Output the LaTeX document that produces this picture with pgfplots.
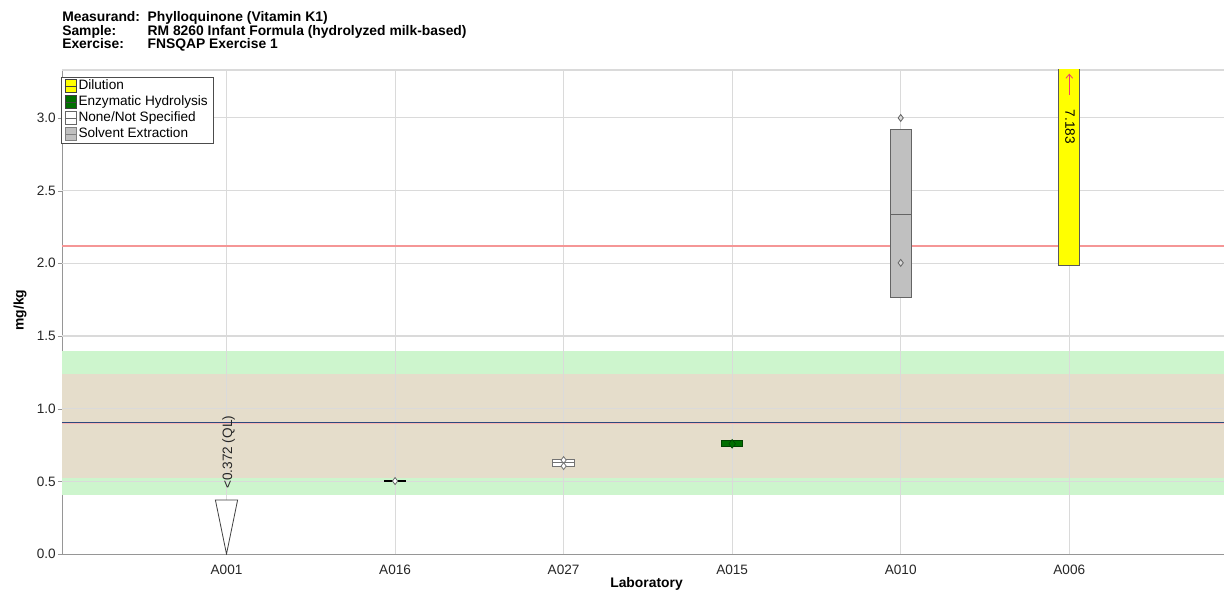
\documentclass[border=0pt]{standalone}
\usepackage{fontspec}
\setmainfont{Liberation Sans}
\usepackage{pgfplots}
\pgfplotsset{compat=1.18}
\usetikzlibrary{arrows.meta}
\definecolor{bandgreen}{RGB}{205,245,205}
\definecolor{bandtan}{RGB}{229,221,203}
\definecolor{refblue}{RGB}{44,74,125}
\definecolor{refred}{RGB}{245,150,150}
\definecolor{gridc}{RGB}{218,218,218}
\definecolor{axc}{RGB}{150,150,150}
\definecolor{dilyellow}{RGB}{255,255,0}
\definecolor{enzgreen}{RGB}{0,110,0}
\definecolor{solvgray}{RGB}{192,192,192}
\definecolor{boxedge}{RGB}{100,100,100}
\definecolor{arrowpink}{RGB}{240,60,110}
\begin{document}
\begin{tikzpicture}[font=\fontsize{10}{12}\selectfont]
\useasboundingbox (-46.5pt,-27pt) rectangle (871.5pt,415.5pt);
% header
\node[anchor=base west, inner sep=0pt, font=\fontsize{10.4}{12}\selectfont\bfseries] at (0pt,399pt) {Measurand:};
\node[anchor=base west, inner sep=0pt, font=\fontsize{10.4}{12}\selectfont\bfseries] at (64pt,399pt) {Phylloquinone (Vitamin K1)};
\node[anchor=base west, inner sep=0pt, font=\fontsize{10.4}{12}\selectfont\bfseries] at (0pt,388.9pt) {Sample:};
\node[anchor=base west, inner sep=0pt, font=\fontsize{10.4}{12}\selectfont\bfseries] at (64pt,388.9pt) {RM 8260 Infant Formula (hydrolyzed milk-based)};
\node[anchor=base west, inner sep=0pt, font=\fontsize{10.4}{12}\selectfont\bfseries] at (0pt,378.8pt) {Exercise:};
\node[anchor=base west, inner sep=0pt, font=\fontsize{10.4}{12}\selectfont\bfseries] at (64pt,378.8pt) {FNSQAP Exercise 1};
\begin{axis}[
  at={(0pt,0pt)}, anchor=south west,
  scale only axis, width=871.5pt, height=363pt,
  xmin=-0.976, xmax=5.918, ymin=0, ymax=3.33,
  axis x line*=bottom, axis y line*=left,
  axis line style={draw=axc, -},
  xtick={0,1,2,3,4,5},
  xticklabels={A001,A016,A027,A015,A010,A006},
  ytick={0,0.5,1,1.5,2,2.5,3},
  /pgf/number format/assume math mode=true,
  yticklabel style={/pgf/number format/fixed, /pgf/number format/fixed zerofill, /pgf/number format/precision=1},
  tick align=outside,
  major tick length=3pt,
  x tick style={draw=none},
  y tick style={draw=axc},
  tick label style={font=\fontsize{10.2}{12}\selectfont, text=black!85},
  xticklabel style={yshift=-1.5pt},
  yticklabel style={xshift=-0.5pt, inner xsep=1pt},
  xlabel={Laboratory},
  ylabel={mg/kg},
  xlabel style={at={(axis description cs:0.503,0)}, anchor=base, yshift=-25pt, font=\fontsize{10.4}{12}\selectfont\bfseries},
  ylabel style={at={(axis description cs:-0.036,0.504)}, anchor=center, font=\fontsize{10.4}{12}\selectfont\bfseries},
  clip=true,
  legend style={at={(axis description cs:0,1)}, anchor=north west, xshift=-0.75pt, yshift=-5pt,
    draw=black!70, fill=white, inner xsep=2.5pt, inner ysep=1pt, row sep=0pt,
    font=\fontsize{10.2}{12}\selectfont,
    nodes={text height=7.5pt, text depth=2pt, inner ysep=1.25pt, inner xsep=1.8pt}},
  legend cell align=left,
  legend image code/.code={
    \draw[#1] (0pt,-4.75pt) rectangle (8.25pt,5pt);
    \draw[#1, fill=none] (0pt,0pt) -- (8.25pt,0pt);
  },
]
% legend entries
\addlegendimage{fill=dilyellow, draw=black!75}
\addlegendentry{Dilution}
\addlegendimage{fill=enzgreen, draw=black!75}
\addlegendentry{Enzymatic Hydrolysis}
\addlegendimage{fill=white, draw=black!60}
\addlegendentry{None/Not Specified}
\addlegendimage{fill=solvgray, draw=black!50}
\addlegendentry{Solvent Extraction}

% bands
\addplot[forget plot, fill=bandgreen, draw=none] coordinates {(-0.976,0.408) (5.918,0.408) (5.918,1.398) (-0.976,1.398)} -- cycle;
\addplot[forget plot, fill=bandtan, draw=none] coordinates {(-0.976,0.525) (5.918,0.525) (5.918,1.236) (-0.976,1.236)} -- cycle;
% grid lines (over bands, under data)
\addplot[forget plot, gridc, line width=0.8pt] coordinates {(-0.976,0.5) (5.918,0.5)};
\addplot[forget plot, gridc, line width=0.8pt] coordinates {(-0.976,1.0) (5.918,1.0)};
\addplot[forget plot, gridc, line width=0.8pt] coordinates {(-0.976,1.5) (5.918,1.5)};
\addplot[forget plot, gridc, line width=0.8pt] coordinates {(-0.976,2.0) (5.918,2.0)};
\addplot[forget plot, gridc, line width=0.8pt] coordinates {(-0.976,2.5) (5.918,2.5)};
\addplot[forget plot, gridc, line width=0.8pt] coordinates {(-0.976,3.0) (5.918,3.0)};
\addplot[forget plot, gridc, line width=0.8pt] coordinates {(-0.976,3.33) (5.918,3.33)};
\addplot[forget plot, gridc, line width=0.8pt] coordinates {(0,0) (0,3.33)};
\addplot[forget plot, gridc, line width=0.8pt] coordinates {(1,0) (1,3.33)};
\addplot[forget plot, gridc, line width=0.8pt] coordinates {(2,0) (2,3.33)};
\addplot[forget plot, gridc, line width=0.8pt] coordinates {(3,0) (3,3.33)};
\addplot[forget plot, gridc, line width=0.8pt] coordinates {(4,0) (4,3.33)};
\addplot[forget plot, gridc, line width=0.8pt] coordinates {(5,0) (5,3.33)};
% reference lines
\addplot[forget plot, refred, line width=1.1pt] coordinates {(-0.976,2.12) (5.918,2.12)};
\addplot[forget plot, refred!70, line width=1.2pt] coordinates {(-0.976,0.902) (5.918,0.902)};
\addplot[forget plot, refblue, line width=1.1pt] coordinates {(-0.976,0.906) (5.918,0.906)};

% A001 : < QL triangle
\addplot[forget plot, fill=white, draw=black!75, line width=0.6pt] coordinates {(-0.066,0.372) (0.066,0.372) (0,0)} -- cycle;
\node[rotate=90, text=black!85, font=\fontsize{10.2}{12}\selectfont] at (axis cs:0.012,0.70) {<0.372 (QL)};

% A016
\addplot[forget plot, black, line width=1.6pt] coordinates {(0.935,0.502) (1.065,0.502)};
\addplot[forget plot, only marks, mark=diamond*, mark size=2.6pt, mark options={fill=white, draw=black!60, line width=0.6pt}] coordinates {(1,0.502)};

% A027
\addplot[forget plot, fill=white, draw=black!55, line width=0.7pt] coordinates {(1.935,0.605) (2.065,0.605) (2.065,0.651) (1.935,0.651)} -- cycle;
\addplot[forget plot, draw=black!55, line width=0.7pt] coordinates {(1.935,0.628) (2.065,0.628)};
\addplot[forget plot, only marks, mark=diamond*, mark size=2.6pt, mark options={fill=white, draw=black!55, line width=0.6pt}] coordinates {(2,0.646) (2,0.605)};

% A015
\addplot[forget plot, fill=enzgreen, draw=enzgreen!60!black, line width=0.7pt] coordinates {(2.936,0.738) (3.064,0.738) (3.064,0.779) (2.936,0.779)} -- cycle;
\addplot[forget plot, only marks, mark=diamond*, mark size=3.3pt, mark options={fill=enzgreen, draw=enzgreen!60!black}] coordinates {(3,0.758)};

% A010
\addplot[forget plot, fill=solvgray, draw=boxedge, line width=0.8pt] coordinates {(3.9375,1.763) (4.0625,1.763) (4.0625,2.918) (3.9375,2.918)} -- cycle;
\addplot[forget plot, draw=boxedge, line width=0.8pt] coordinates {(3.9375,2.338) (4.0625,2.338)};
\addplot[forget plot, only marks, mark=diamond*, mark size=2.6pt, mark options={fill=solvgray!60, draw=boxedge, line width=0.6pt}] coordinates {(4,3.0) (4,2.003)};

% A006
\addplot[forget plot, fill=dilyellow, draw=black!65, line width=0.7pt] coordinates {(4.9375,1.983) (5.0625,1.983) (5.0625,3.5) (4.9375,3.5)} -- cycle;
\addplot[forget plot, arrowpink, line width=0.6pt, -{Straight Barb[length=3pt, width=5pt]}] coordinates {(5,3.157) (5,3.305)};
\node[rotate=-90, text=black, font=\fontsize{10.2}{12}\selectfont] at (axis cs:5.005,2.94) {7.183};
\end{axis}
\end{tikzpicture}
\end{document}
